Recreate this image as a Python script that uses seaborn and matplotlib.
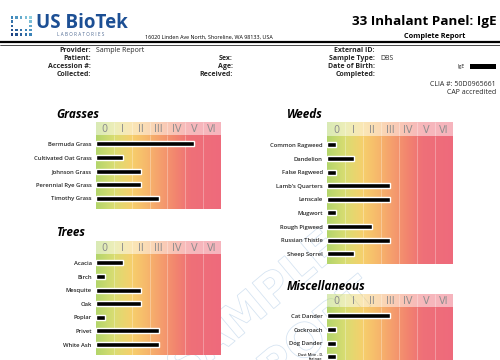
import numpy as np
import matplotlib
matplotlib.use('Agg')
import matplotlib.pyplot as plt
import seaborn as sns
import pandas as pd
from matplotlib.colors import LinearSegmentedColormap
from matplotlib.textpath import TextPath
from matplotlib.patches import PathPatch, Rectangle
from matplotlib.font_manager import FontProperties
from matplotlib.lines import Line2D
import matplotlib.transforms as mtransforms

sns.set_theme(style='white')
plt.rcParams['font.family'] = ['Open Sans', 'DejaVu Sans']

# ---------------- data ----------------
class_labels = ['0', 'I', 'II', 'III', 'IV', 'V', 'VI']

grass_names = ['Bermuda Grass', 'Cultivated Oat Grass', 'Johnson Grass',
               'Perennial Rye Grass', 'Timothy Grass']
grass_levels = [5, 1, 2, 2, 3]

tree_names = ['Acacia', 'Birch', 'Mesquite', 'Oak', 'Poplar', 'Privet', 'White Ash']
tree_levels = [1, 0, 2, 2, 0, 3, 3]

weed_names = ['Common Ragweed', 'Dandelion', 'False Ragweed', "Lamb's Quarters",
              'Lenscale', 'Mugwort', 'Rough Pigweed', 'Russian Thistle', 'Sheep Sorrel']
weed_levels = [0, 1, 0, 3, 3, 0, 2, 3, 1]

misc_names = ['Cat Dander', 'Cockroach', 'Dog Dander', 'Dust Mite - D.\nfarinae']
misc_levels = [3, 0, 0, 0]

# ---------------- layout helpers ----------------
W, H = 500, 360
fig = plt.figure(figsize=(5, 3.6), dpi=100)
fig.patch.set_facecolor('white')


def rect(x0, y0, x1, y1):
    return [x0 / W, 1 - y1 / H, (x1 - x0) / W, (y1 - y0) / H]


ncls = len(class_labels)
grad_stops = [(0.0, '#b3d56b'), (1.0, '#d9dd72'), (2.0, '#f6cf6c'),
              (2.8, '#f7b96b'), (3.6, '#f59f6d'), (4.5, '#f2846f'),
              (5.3, '#ef7078'), (7.0, '#ee6a7c')]
cmap = LinearSegmentedColormap.from_list(
    'risk', [(p / ncls, c) for p, c in grad_stops])
grad = np.linspace(0, 1, 256)[None, :]
ROW = 13.6

# overlay axes in pixel coordinates (behind panels) for watermark / logo
ov = fig.add_axes([0, 0, 1, 1])
ov.set_xlim(0, W)
ov.set_ylim(H, 0)
ov.axis('off')
ov.set_zorder(-1)


def watermark(word, cx, cy, size, angle):
    tp = TextPath((0, 0), word, size=size,
                  prop=FontProperties(family='DejaVu Sans', weight='bold'))
    ext = tp.get_extents()
    tr = (mtransforms.Affine2D()
          .translate(-(ext.x0 + ext.x1) / 2, -(ext.y0 + ext.y1) / 2)
          .scale(1, -1).rotate_deg(-angle).translate(cx, cy))
    ov.add_patch(PathPatch(tr.transform_path(tp), facecolor='none',
                           edgecolor='#d3e2f1', lw=0.55))


watermark('SAMPLE', 252, 305, 46, 40)
watermark('REPORT', 292, 350, 46, 40)


def panel(title, names, levels, x0, x1, htop, hbot):
    fig.text((x0 - 40) / W, 1 - (htop - 8) / H, title, fontsize=8.5,
             fontweight='bold', fontstyle='italic', ha='left', va='center',
             color='black')
    # header row
    hax = fig.add_axes(rect(x0, htop, x1, hbot))
    hax.imshow(grad, aspect='auto', cmap=cmap, extent=(0, ncls, 0, 1), alpha=0.5)
    hax.set_xlim(0, ncls)
    hax.set_ylim(0, 1)
    hax.axis('off')
    for i, lab in enumerate(class_labels):
        hax.text(i + 0.5, 0.45, lab, ha='center', va='center', fontsize=7,
                 color='#8e8e8e', family='DejaVu Sans')
    hax.vlines(range(1, ncls), 0, 1, color='white', lw=0.6, alpha=0.35)
    # body
    n = len(names)
    bbot = hbot + (n + 0.44) * ROW
    bax = fig.add_axes(rect(x0, hbot, x1, bbot))
    ylim = (n - 1 + 0.78, -0.66)
    bax.imshow(grad, aspect='auto', cmap=cmap,
               extent=(0, ncls, ylim[0], ylim[1]), zorder=0)
    df = pd.DataFrame({'name': names, 'score': np.array(levels) + 0.5})
    sns.barplot(data=df, x='score', y='name', orient='h', color='black',
                saturation=1, width=0.37, ax=bax, zorder=3)
    bax.vlines(range(1, ncls), ylim[1], ylim[0], color='white', lw=0.6,
               alpha=0.35, zorder=1)
    bax.set_xlim(0, ncls)
    bax.set_ylim(*ylim)
    bax.set_xlabel('')
    bax.set_ylabel('')
    bax.set_xticks([])
    for s in bax.spines.values():
        s.set_visible(False)
    bax.tick_params(axis='y', length=0, pad=3, labelsize=4.2)
    for lbl in bax.get_yticklabels():
        lbl.set_fontweight('semibold')
        if '\n' in lbl.get_text():
            lbl.set_fontsize(2.8)
            lbl.set_linespacing(0.9)


panel('Grasses', grass_names, grass_levels, 96, 221, 122, 135)
panel('Trees', tree_names, tree_levels, 96, 221, 240.7, 254)
panel('Weeds', weed_names, weed_levels, 327, 452.7, 122, 136)
panel('Miscellaneous', misc_names, misc_levels, 327, 452.7, 294, 307)

# ---------------- report header ----------------
# logo dots
gx, gy = np.meshgrid(np.arange(5), np.arange(5))
gx, gy = gx.ravel(), gy.ravel()
keep = ~((gx > 0) & (gx < 4) & (gy > 0) & (gy < 3))
t = ((gy + (4 - gx)) / 8.0)[keep]
dot_cmap = LinearSegmentedColormap.from_list('logo', ['#8fd0e0', '#3a83b8', '#1d3f80'])
ov.scatter(12 + gx[keep] * 4.6, 17.5 + gy[keep] * 4.2, s=3.2, marker='s',
           c=dot_cmap(t), linewidths=0)
ov.text(36, 23, 'US BioTek', fontsize=13.5, fontweight='bold', color='#1c4f94',
        ha='left', va='center')
ov.text(81, 34.5, 'L A B O R A T O R I E S', fontsize=3.3, color='#4a6690',
        ha='center', va='center')
ov.text(145, 37.5, '16020 Linden Ave North, Shoreline, WA 98133, USA', fontsize=3.9,
        ha='left', va='center', color='black')
ov.text(497, 21, '33 Inhalant Panel: IgE', fontsize=9.7, fontweight='bold',
        ha='right', va='center', color='black')
ov.text(435, 36.5, 'Complete Report', fontsize=5.2, fontweight='bold',
        ha='center', va='center', color='black')

fig.add_artist(Line2D([0, 1], [1 - 41.5 / H] * 2, lw=1.6, color='black'))
fig.add_artist(Line2D([0, 1], [1 - 45 / H] * 2, lw=0.5, color='black'))

info_left = [('Provider:', 50.7), ('Patient:', 59), ('Accession #:', 67), ('Collected:', 75)]
info_mid = [('Sex:', 59), ('Age:', 67), ('Received:', 75)]
info_right = [('External ID:', 51), ('Sample Type:', 59), ('Date of Birth:', 67),
              ('Completed:', 75)]
for lab, y in info_left:
    ov.text(90.7, y, lab, fontsize=5, fontweight='bold', ha='right', va='center')
for lab, y in info_mid:
    ov.text(232.7, y, lab, fontsize=5, fontweight='bold', ha='right', va='center')
for lab, y in info_right:
    ov.text(375, y, lab, fontsize=5, fontweight='bold', ha='right', va='center')
ov.text(95.7, 50.7, 'Sample Report', fontsize=5, ha='left', va='center')
ov.text(380, 59, 'DBS', fontsize=5, ha='left', va='center')
ov.text(457, 66.8, 'IgE', fontsize=3.8, ha='left', va='center')
ov.add_patch(Rectangle((470, 64.3), 26, 5, color='black', lw=0))
ov.text(496, 84, 'CLIA #: 50D0965661', fontsize=5, ha='right', va='center')
ov.text(496, 92.5, 'CAP accredited', fontsize=5, ha='right', va='center')

fig.savefig('out.png', dpi=100, facecolor='white')
